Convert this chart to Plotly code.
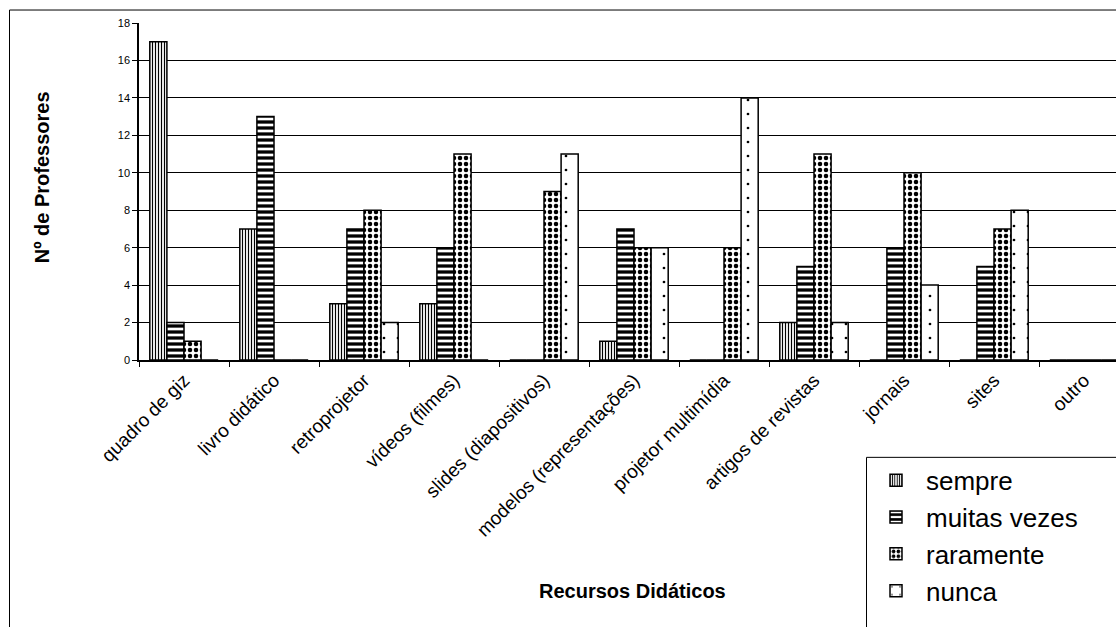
import plotly.graph_objects as go

# Recursos didáticos usados pelos professores, por frequência de uso
recursos = [
    "quadro de giz", "livro didático", "retroprojetor", "vídeos (filmes)",
    "slides (diapositivos)", "modelos (representações)", "projetor multimídia",
    "artigos de revistas", "jornais", "sites", "outro",
]
sempre = [17, 7, 3, 3, 0, 1, 0, 2, 0, 0, 0]
muitas_vezes = [2, 13, 7, 6, 0, 7, 0, 5, 6, 5, 0]
raramente = [1, 0, 8, 11, 9, 6, 6, 11, 10, 7, 0]
nunca = [0, 0, 2, 0, 11, 6, 14, 2, 4, 8, 0]

y_ticks = list(range(0, 19, 2))

FONT = "Liberation Sans, Arial, sans-serif"

series = [
    ("sempre", sempre, dict(shape="|", size=3, solidity=0.4)),
    ("muitas vezes", muitas_vezes, dict(shape="-", size=6, solidity=0.55)),
    ("raramente", raramente, dict(shape=".", size=6, solidity=0.45)),
    ("nunca", nunca, dict(shape=".", size=14, solidity=0.03)),
]

fig = go.Figure()
for name, vals, pat in series:
    fig.add_trace(go.Bar(
        name=name,
        x=recursos,
        y=vals,
        marker=dict(
            color="white",
            line=dict(color="black", width=1.5),
            pattern=dict(fgcolor="black", bgcolor="white", fgopacity=1,
                         fillmode="replace", **pat),
        ),
    ))

W, H = 1116, 627
L, T, B = 139, 22.5, 267
plot_w = W - L
plot_h = H - T - B
cat_px = 90.0  # width of one category slot

def px_to_paper_x(px):
    return (px - L) / plot_w

def px_to_paper_y(py):
    return (H - B - py) / plot_h

fig.update_layout(
    width=W, height=H,
    margin=dict(l=L, r=0, t=T, b=B, pad=0, autoexpand=False),
    paper_bgcolor="white",
    plot_bgcolor="white",
    barmode="group",
    bargap=0.24,
    bargroupgap=0,
    font=dict(family=FONT, color="black"),
    xaxis=dict(
        type="category",
        range=[-0.5, -0.5 + plot_w / cat_px],
        showline=True, linecolor="black", linewidth=1.5,
        ticks="outside", tickson="boundaries", ticklen=5, tickcolor="black",
        tickangle=-45,
        tickfont=dict(size=19, family=FONT),
        showgrid=False,
        automargin=False,
    ),
    yaxis=dict(
        range=[0, 18],
        tickvals=y_ticks,
        showline=True, linecolor="black", linewidth=1.5,
        ticks="outside", ticklen=5, tickcolor="black",
        tickfont=dict(size=11, family=FONT),
        showgrid=True, gridcolor="black", gridwidth=1,
        zeroline=False,
        automargin=False,
    ),
    legend=dict(
        x=px_to_paper_x(866), y=px_to_paper_y(457),
        xanchor="left", yanchor="top",
        bgcolor="rgba(0,0,0,0)", borderwidth=0,
        font=dict(size=26, family=FONT),
        itemwidth=50,
        tracegroupgap=0,
    ),
    showlegend=True,
)

# outer chart frame
fig.add_shape(
    type="rect", xref="paper", yref="paper",
    x0=px_to_paper_x(9.5), x1=px_to_paper_x(W + 20),
    y0=px_to_paper_y(H + 20), y1=px_to_paper_y(9.5),
    line=dict(color="black", width=1), fillcolor="rgba(0,0,0,0)",
    layer="below",
)
# legend frame, running past the page edges
fig.add_shape(
    type="rect", xref="paper", yref="paper",
    x0=px_to_paper_x(866.5), x1=px_to_paper_x(W + 20),
    y0=px_to_paper_y(H + 20), y1=px_to_paper_y(457.5),
    line=dict(color="black", width=1), fillcolor="white",
    layer="above",
)

# axis titles
fig.add_annotation(
    text="<b>Recursos Didáticos</b>", xref="paper", yref="paper",
    x=px_to_paper_x(632), y=px_to_paper_y(591),
    showarrow=False, font=dict(size=20, family=FONT),
    xanchor="center", yanchor="middle",
)
fig.add_annotation(
    text="<b>Nº de Professores</b>", xref="paper", yref="paper",
    x=px_to_paper_x(42), y=px_to_paper_y(177),
    showarrow=False, font=dict(size=20, family=FONT),
    textangle=-90, xanchor="center", yanchor="middle",
)

fig.write_html("out.html")
